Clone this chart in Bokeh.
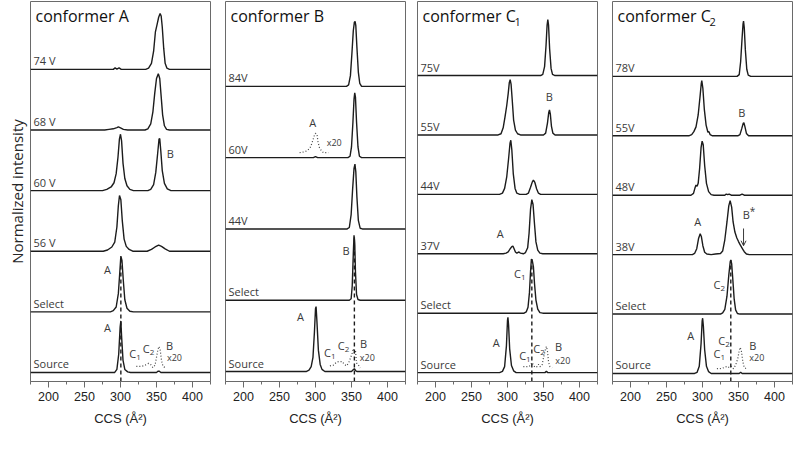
from bokeh.plotting import figure
from bokeh.layouts import row
from bokeh.models import FixedTicker, Range1d, Title, Arrow, OpenHead
from bokeh.core.properties import value
from bokeh.embed import file_html
from bokeh.resources import INLINE

# ---------------- data ----------------
x_ticks = [200, 250, 300, 350, 400]
x_minor = [175, 225, 275, 325, 375, 425]

# conformer A  (heights are fractions of the row spacing)
a_rows = ["74 V", "68 V", "60 V", "56 V", "Select", "Source"]
a_74v = [(175, 0), (290, 0), (292.5, 0.025), (295, 0.005), (298, 0.025), (301, 0), (335, 0), (339, 0.02), (343, 0.1),
         (346, 0.3), (348.5, 0.62), (351, 0.75), (353, 0.86), (355, 0.92), (356.5, 0.88), (358, 0.7), (360, 0.35),
         (362, 0.1), (364.5, 0.02), (368, 0), (425, 0)]
a_68v = [(175, 0), (278, 0), (284, 0.01), (290, 0.02), (295, 0.04), (297, 0.05), (300, 0.035), (304, 0.01), (310, 0),
         (334, 0), (338, 0.02), (342, 0.1), (345, 0.3), (347.5, 0.6), (350, 0.85), (352.5, 0.93), (354.5, 0.85),
         (356.5, 0.55), (358.5, 0.25), (361, 0.07), (364, 0.01), (368, 0), (425, 0)]
a_60v = [(175, 0), (275, 0), (281, 0.02), (287, 0.06), (291, 0.13), (294, 0.28), (296.5, 0.55), (298.5, 0.85),
         (300, 0.93), (301.5, 0.82), (303.5, 0.45), (306, 0.2), (309, 0.08), (313, 0.02), (318, 0), (338, 0),
         (342, 0.02), (346, 0.1), (349, 0.3), (351.5, 0.6), (353.5, 0.85), (354.5, 0.86), (356, 0.65), (358, 0.33),
         (361, 0.12), (365, 0.03), (370, 0), (425, 0)]
a_56v = [(175, 0), (276, 0), (282, 0.02), (288, 0.07), (292, 0.15), (295, 0.4), (297, 0.75), (298.6, 0.92),
         (300.5, 0.85), (302.5, 0.5), (305, 0.2), (308, 0.08), (312, 0.03), (317, 0), (337, 0), (343, 0.03),
         (348, 0.07), (353, 0.1), (357, 0.08), (362, 0.04), (368, 0), (425, 0)]
a_select = [(175, 0), (286, 0), (290, 0.02), (294, 0.08), (297, 0.3), (299, 0.65), (300.5, 0.92), (302, 0.85),
            (304, 0.5), (306, 0.2), (309, 0.06), (313, 0.01), (318, 0), (425, 0)]
a_source = [(175, 0), (292, 0), (295, 0.05), (297.5, 0.3), (299.5, 0.75), (300.5, 0.85), (301.5, 0.6), (303.5, 0.2),
            (306, 0.05), (310, 0.01), (314, 0), (350, 0), (352, 0.02), (354, 0.02), (356, 0), (425, 0)]
a_source_x20 = [(322, 0.1), (328, 0.1), (332, 0.11), (336, 0.13), (339, 0.15), (342, 0.13), (345, 0.08), (348, 0.12),
                (350, 0.25), (352, 0.38), (353.5, 0.43), (355, 0.38), (357, 0.2), (359, 0.1), (362, 0.08)]
a_labels = [(2, 369, 0.62, "B", "", ""), (4, 282, 0.70, "A", "", ""), (5, 282, 0.74, "A", "", ""),
            (5, 317, 0.31, "C", "1", ""), (5, 335.7, 0.40, "C", "2", ""), (5, 368, 0.45, "B", "", "")]
a_x20 = [(5, 375, 0.24)]
a_dashed = (300.5, 4)

# conformer B
b_rows = ["84V", "60V", "44V", "Select", "Source"]
b_84v = [(175, 0), (343, 0), (346, 0.02), (348.5, 0.15), (350.5, 0.45), (352.5, 0.78), (354, 0.9), (355, 0.91),
         (356, 0.85), (357.5, 0.55), (359.5, 0.2), (361.5, 0.04), (364, 0), (425, 0)]
b_60v = [(175, 0), (297, 0), (300, 0.015), (303, 0), (345, 0), (348, 0.02), (350, 0.15), (352, 0.5), (353.5, 0.82),
         (354.5, 0.91), (355.5, 0.85), (357, 0.5), (359, 0.15), (361, 0.02), (364, 0), (425, 0)]
b_44v = [(175, 0), (344, 0), (347, 0.02), (349.5, 0.2), (351.5, 0.55), (353.5, 0.85), (354.8, 0.91), (356, 0.8),
         (357.5, 0.45), (359.5, 0.12), (362, 0.01), (365, 0), (425, 0)]
b_select = [(175, 0), (347, 0), (349.5, 0.02), (351, 0.2), (352.5, 0.65), (353.5, 0.91), (354.5, 0.8), (355.5, 0.4),
            (357, 0.08), (359, 0.01), (362, 0), (425, 0)]
b_source = [(175, 0), (287, 0), (291, 0.02), (294, 0.07), (296.5, 0.2), (298.5, 0.55), (300, 0.88), (300.8, 0.91),
            (302, 0.7), (304, 0.3), (306.5, 0.1), (309, 0.03), (313, 0), (350, 0), (352, 0.02), (354, 0.04),
            (356, 0.01), (358, 0), (425, 0)]
b_60v_x20 = [(278, 0.07), (284, 0.08), (289, 0.1), (292.5, 0.14), (295, 0.2), (298, 0.3), (300, 0.34), (302, 0.33),
             (303.5, 0.22), (305.5, 0.14), (308, 0.1), (311, 0.07), (318, 0.07)]
b_source_x20 = [(320, 0.08), (325, 0.09), (329, 0.13), (333, 0.14), (337, 0.14), (340, 0.1), (343, 0.08), (346, 0.12),
                (349, 0.2), (351, 0.26), (352.5, 0.32), (354, 0.25), (355.5, 0.3), (357, 0.12), (359, 0.1), (362, 0.05)]
b_labels = [(1, 296, 0.49, "A", "", ""), (3, 342.6, 0.70, "B", "", ""), (4, 279, 0.77, "A", "", ""),
            (4, 316.7, 0.27, "C", "1", ""), (4, 335.7, 0.36, "C", "2", ""), (4, 366.7, 0.39, "B", "", "")]
b_x20 = [(1, 326, 0.21), (4, 372, 0.20)]
b_dashed = (354, 3)

# conformer C1
c1_rows = ["75V", "55V", "44V", "37V", "Select", "Source"]
c1_75v = [(175, 0), (346, 0), (349, 0.02), (351.5, 0.15), (353.5, 0.5), (355, 0.85), (356, 0.94), (357, 0.85),
          (358.5, 0.45), (360.5, 0.12), (362.5, 0.02), (366, 0), (425, 0)]
c1_55v = [(175, 0), (287, 0), (291, 0.02), (294, 0.12), (296.5, 0.3), (299, 0.5), (301, 0.7), (302.5, 0.88),
          (303.7, 0.93), (305, 0.85), (306.5, 0.6), (308.5, 0.25), (311, 0.08), (314, 0.02), (318, 0), (350, 0),
          (353, 0.03), (355.5, 0.2), (357.3, 0.38), (358.3, 0.42), (359.5, 0.35), (361, 0.15), (363, 0.03), (366, 0),
          (425, 0)]
c1_44v = [(175, 0), (289, 0), (293, 0.02), (296, 0.1), (299, 0.3), (301.5, 0.6), (303.5, 0.86), (304.6, 0.91),
          (306, 0.75), (308, 0.35), (310.5, 0.1), (313, 0.02), (317, 0), (326, 0), (329, 0.02), (332, 0.12),
          (334.5, 0.21), (336, 0.24), (338, 0.2), (340.5, 0.09), (343, 0.02), (346, 0), (425, 0)]
c1_37v = [(175, 0), (294, 0), (298, 0.01), (301, 0.03), (303.5, 0.08), (306, 0.12), (307.5, 0.13), (309, 0.09),
          (311, 0.03), (313, 0.01), (316, 0.03), (318, 0.01), (322, 0), (325, 0.02), (328, 0.1), (330, 0.35),
          (332, 0.75), (333.8, 0.91), (335.5, 0.83), (337.5, 0.5), (339.5, 0.2), (342, 0.06), (345, 0.01), (349, 0),
          (425, 0)]
c1_select = [(175, 0), (323, 0), (326, 0.02), (328.5, 0.1), (330.5, 0.35), (332, 0.7), (333.2, 0.91), (334.5, 0.88),
             (336, 0.78), (337.5, 0.5), (339.5, 0.22), (342, 0.07), (345, 0.01), (349, 0), (425, 0)]
c1_source = [(175, 0), (289, 0), (293, 0.02), (296, 0.1), (298.5, 0.45), (300, 0.88), (300.6, 0.93), (301.5, 0.8),
             (303, 0.4), (305.5, 0.12), (308.5, 0.03), (312, 0), (352, 0), (354, 0.02), (356, 0), (425, 0)]
c1_source_x20 = [(322, 0.1), (326, 0.1), (330, 0.1), (332, 0.13), (334, 0.17), (336, 0.13), (338, 0.09), (341, 0.1),
                 (343, 0.14), (345, 0.1), (348, 0.12), (350, 0.25), (352.5, 0.38), (354, 0.44), (355.5, 0.36),
                 (357, 0.18), (359, 0.1), (362, 0.08)]
c1_labels = [(1, 358, 0.64, "B", "", ""), (3, 290, 0.34, "A", "", ""), (4, 314, 0.66, "C", "1", ""),
             (5, 284.3, 0.51, "A", "", ""), (5, 321, 0.29, "C", "1", ""), (5, 340.7, 0.40, "C", "2", ""),
             (5, 370.8, 0.44, "B", "", "")]
c1_x20 = [(5, 376.8, 0.20)]
c1_dashed = (333.8, 4)

# conformer C2
c2_rows = ["78V", "55V", "48V", "38V", "Select", "Source"]
c2_78v = [(175, 0), (348, 0), (351, 0.03), (353, 0.25), (355, 0.65), (356.3, 0.88), (357, 0.93), (358, 0.82),
          (359.5, 0.45), (361.5, 0.12), (363.5, 0.02), (367, 0), (425, 0)]
c2_55v = [(175, 0), (281, 0), (285, 0.02), (288, 0.07), (291, 0.15), (294, 0.35), (296.5, 0.65), (298.3, 0.88),
          (299, 0.93), (300.5, 0.8), (302.5, 0.45), (305, 0.18), (307.5, 0.06), (309, 0.07), (310.5, 0.02),
          (314, 0), (349, 0), (352, 0.02), (354.5, 0.12), (356.5, 0.21), (357.5, 0.22), (359, 0.15), (361, 0.04),
          (364, 0), (425, 0)]
c2_48v = [(175, 0), (284, 0), (287.5, 0.03), (289.5, 0.12), (291, 0.17), (292.5, 0.15), (294, 0.2), (296, 0.45),
          (298, 0.8), (299.5, 0.91), (301, 0.85), (303, 0.5), (305.5, 0.2), (308.5, 0.06), (312, 0.01), (316, 0),
          (331, 0), (333, 0.02), (335, 0.01), (337, 0.02), (340, 0), (352, 0), (355, 0.02), (358, 0), (425, 0)]
c2_38v = [(175, 0), (286, 0), (289, 0.02), (292, 0.1), (294.5, 0.27), (296.8, 0.35), (298.5, 0.3), (300.5, 0.15),
          (303, 0.04), (306, 0.01), (312, 0), (318, 0.01), (325, 0.02), (328, 0.06), (331, 0.25), (334, 0.55),
          (336.5, 0.82), (338.4, 0.91), (340.5, 0.8), (342.5, 0.55), (345, 0.38), (347.7, 0.28), (350, 0.22),
          (353, 0.15), (356, 0.09), (358, 0.05), (361, 0.01), (365, 0), (425, 0)]
c2_select = [(175, 0), (325, 0), (328, 0.02), (331, 0.08), (334, 0.3), (336.5, 0.65), (338.5, 0.88), (339.3, 0.91),
             (340.5, 0.85), (342, 0.6), (344, 0.25), (346, 0.07), (348.5, 0.01), (352, 0), (425, 0)]
c2_source = [(175, 0), (289, 0), (292.5, 0.02), (295.5, 0.12), (298, 0.5), (299.5, 0.88), (300.2, 0.93),
             (301.2, 0.8), (303, 0.4), (305.5, 0.12), (308.5, 0.03), (312, 0), (351, 0), (353, 0.02), (355, 0),
             (425, 0)]
c2_source_x20 = [(320, 0.08), (324, 0.08), (328, 0.09), (332, 0.11), (335, 0.12), (337, 0.1), (340, 0.12), (343, 0.08),
                 (346, 0.14), (349, 0.25), (351, 0.38), (352.4, 0.44), (354, 0.38), (356, 0.2), (358, 0.1), (361, 0.08)]
c2_labels = [(1, 354.6, 0.39, "B", "", ""), (3, 293.5, 0.56, "A", "", ""), (3, 360.7, 0.67, "B", "", "*"),
             (4, 320, 0.49, "C", "2", ""), (5, 283.8, 0.64, "A", "", ""), (5, 326.8, 0.56, "C", "2", ""),
             (5, 320, 0.34, "C", "1", ""), (5, 369.9, 0.47, "B", "", "")]
c2_x20 = [(5, 375.4, 0.27)]
c2_arrow = (3, 357, 0.44, 0.15)
c2_dashed = (339.3, 4)

# ---------------- drawing ----------------
LINE = "#1c1c1c"
TXT = "#3a3a3a"
FRAME = "#6a6a6a"
SANS = value("Open Sans")


def make_panel(title, title_sub, row_names, traces, dotted, labels, x20, dashed,
               y_lo, y_hi, b_left, b_right, ylabel=False, arrow=None):
    n = len(row_names)
    p = figure(frame_width=180, frame_height=380, x_range=Range1d(175, 425), y_range=Range1d(y_lo, y_hi),
               output_backend="svg", toolbar_location=None, tools="",
               min_border_left=b_left, min_border_right=b_right, min_border_top=1, min_border_bottom=60)
    p.xgrid.visible = False
    p.ygrid.visible = False
    p.outline_line_color = FRAME
    p.outline_line_width = 1
    p.background_fill_color = "white"
    p.border_fill_color = "white"
    p.yaxis.visible = False

    xa = p.xaxis[0]
    xa.ticker = FixedTicker(ticks=x_ticks, minor_ticks=x_minor)
    xa.axis_label = "CCS (Å²)"
    xa.axis_label_text_font = "Liberation Sans"
    xa.axis_label_text_font_style = "normal"
    xa.axis_label_text_font_size = "13px"
    xa.axis_label_text_color = "#222222"
    xa.axis_label_standoff = 7
    xa.major_label_text_font = "Liberation Sans"
    xa.major_label_text_font_size = "12.5px"
    xa.major_label_text_color = "#222222"
    xa.major_label_standoff = 4
    xa.major_tick_out = 6
    xa.major_tick_in = 0
    xa.minor_tick_out = 3
    xa.minor_tick_in = 0
    xa.axis_line_color = FRAME
    xa.major_tick_line_color = FRAME
    xa.minor_tick_line_color = FRAME

    if ylabel:
        p.add_layout(Title(text="Normalized intensity", align="center", text_font="Open Sans",
                           text_font_size="15px", text_font_style="normal", text_color="#262626",
                           standoff=8, offset=0), "left")

    # traces
    for i, (name, tr) in enumerate(zip(row_names, traces)):
        off = n - 1 - i
        p.line([q[0] for q in tr], [off + q[1] for q in tr], line_color=LINE, line_width=1.4)
        p.text(x=[175], y=[off], text=[name], x_offset=3, y_offset=-1, text_font=SANS, text_font_size="11px",
               text_color=TXT, text_align="left", text_baseline="bottom")
    for (ri, tr) in dotted:
        off = n - 1 - ri
        p.line([q[0] for q in tr], [off + q[1] for q in tr], line_color="#444444", line_width=1.2,
               line_dash="1 2")
    # dashed reference line
    dx, dri = dashed
    top = (n - 1 - dri) + max(q[1] for q in traces[dri])
    p.segment(x0=[dx], y0=[y_lo], x1=[dx], y1=[top], line_color=LINE, line_width=1.4, line_dash="4 3")

    # labels
    for (ri, x, y, t, sub, sup) in labels:
        off = n - 1 - ri
        p.text(x=[x], y=[off + y], text=[t], text_font=SANS, text_font_size="11px", text_color=TXT,
               text_align="center", text_baseline="middle")
        if sub:
            p.text(x=[x], y=[off + y], text=[sub], x_offset=3.5, y_offset=4, text_font=SANS,
                   text_font_size="8px", text_color=TXT, text_align="left", text_baseline="middle")
        if sup:
            p.text(x=[x], y=[off + y], text=[sup], x_offset=3.5, y_offset=-4, text_font=SANS,
                   text_font_size="10px", text_color=TXT, text_align="left", text_baseline="middle")
    for (ri, x, y) in x20:
        off = n - 1 - ri
        p.text(x=[x], y=[off + y], text=["x20"], text_font=SANS, text_font_size="9px", text_color=TXT,
               text_align="center", text_baseline="middle")
    if arrow is not None:
        ri, ax, y0, y1 = arrow
        off = n - 1 - ri
        p.add_layout(Arrow(end=OpenHead(size=5, line_color=TXT, line_width=1), x_start=ax, y_start=off + y0,
                           x_end=ax, y_end=off + y1, line_color=TXT, line_width=1))

    # panel title
    p.text(x=[175], y=[y_hi], text=[title], x_offset=5, y_offset=14, text_font=SANS, text_font_size="16px",
           text_color="#111111", text_align="left", text_baseline="middle")
    if title_sub:
        p.text(x=[175], y=[y_hi], text=[title_sub], x_offset=97, y_offset=20, text_font=SANS,
               text_font_size="11px", text_color="#111111", text_align="left", text_baseline="middle")
    return p


p1 = make_panel("conformer A", "", a_rows, [a_74v, a_68v, a_60v, a_56v, a_select, a_source],
                [(5, a_source_x20)], a_labels, a_x20, a_dashed, -0.149, 6.12, 27, 8, ylabel=True)
p2 = make_panel("conformer B", "", b_rows, [b_84v, b_60v, b_44v, b_select, b_source],
                [(1, b_60v_x20), (4, b_source_x20)], b_labels, b_x20, b_dashed, -0.14, 5.19, 7, 6)
p3 = make_panel("conformer C", "1", c1_rows, [c1_75v, c1_55v, c1_44v, c1_37v, c1_select, c1_source],
                [(5, c1_source_x20)], c1_labels, c1_x20, c1_dashed, -0.15, 6.246, 6, 7)
p4 = make_panel("conformer C", "2", c2_rows, [c2_78v, c2_55v, c2_48v, c2_38v, c2_select, c2_source],
                [(5, c2_source_x20)], c2_labels, c2_x20, c2_dashed, -0.135, 6.26, 8, 3, arrow=c2_arrow)

layout = row(p1, p2, p3, p4, spacing=0)
open("out.html", "w").write(file_html(layout, INLINE))
